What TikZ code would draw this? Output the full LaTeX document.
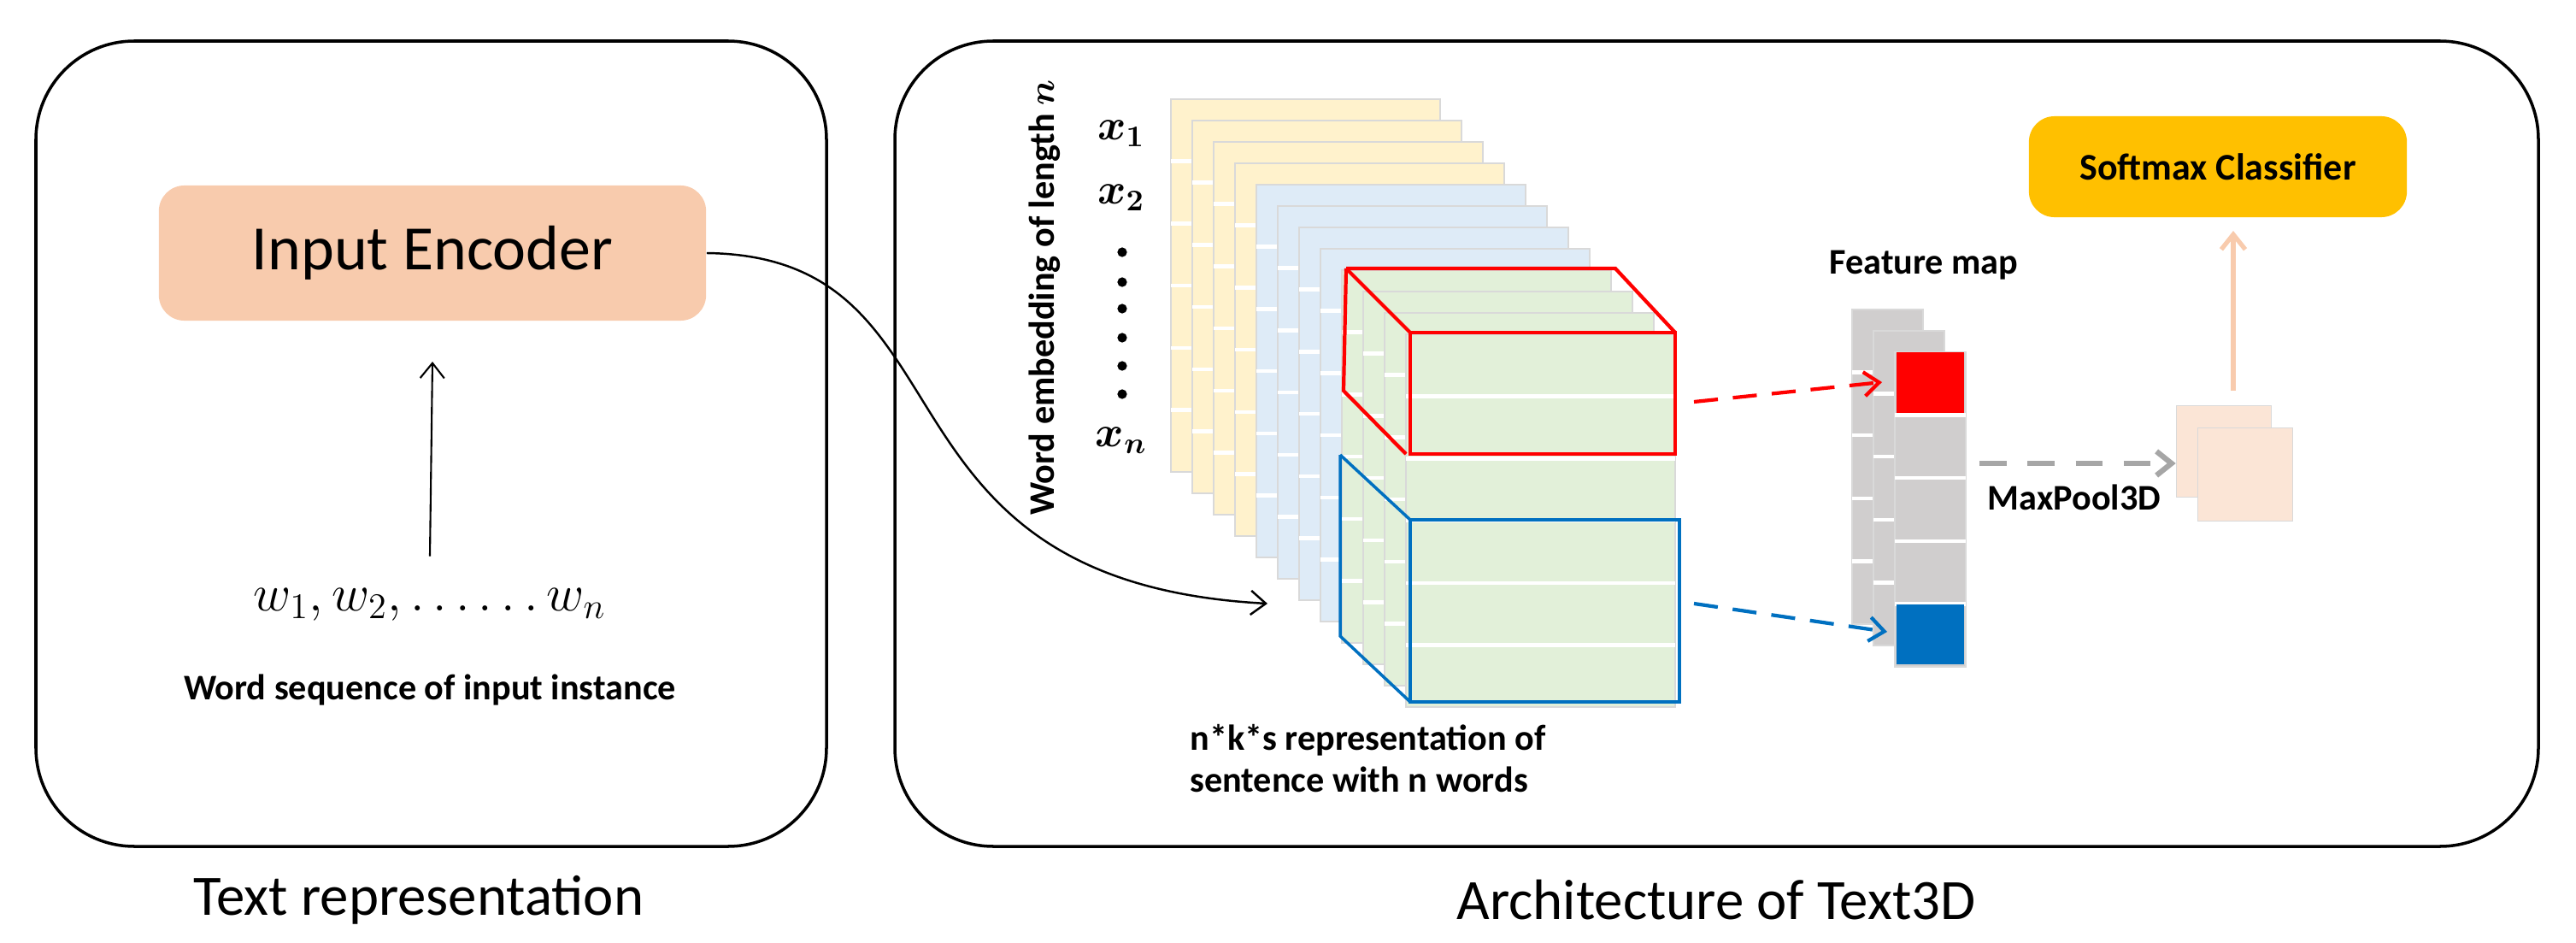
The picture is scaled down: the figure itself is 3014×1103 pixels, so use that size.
\documentclass[tikz,border=0pt]{standalone}
\usepackage{amsmath,bm}
\usepackage{fontspec}
\setmainfont{Carlito}
\usetikzlibrary{arrows.meta}
\definecolor{enc}{HTML}{F8CBAD}
\definecolor{sy}{HTML}{FFF2CC}
\definecolor{sb}{HTML}{DEEBF7}
\definecolor{sg}{HTML}{E2F0D9}
\definecolor{fg}{HTML}{D0CECE}
\definecolor{pool}{HTML}{FBE5D6}
\definecolor{gold}{HTML}{FFC000}
\definecolor{myred}{HTML}{FF0000}
\definecolor{myblue}{HTML}{0070C0}
\begin{document}
\begin{tikzpicture}[x=0.01cm,y=-0.01cm,
  panel/.style={draw=black,line width=1pt,rounded corners=1.15cm},
  lbl/.style={font=\bfseries\fontsize{12}{14}\selectfont,align=left},
  sheet/.style={draw=black!15,line width=0.4pt},
  row/.style={white,line width=1.3pt},
  tip/.style={-{Straight Barb[length=5pt,width=8pt]}}]
\useasboundingbox (0,0) rectangle (3014,1103);
% panels
\draw[panel] (42,48) rectangle (967,990);
\draw[panel] (1047,48) rectangle (2970,990);
% left panel
\node[fill=enc,rounded corners=0.3cm,minimum width=6.4cm,minimum height=1.58cm,font=\fontsize{21}{24}\selectfont] (enc) at (506,296) {Input Encoder};
\node (words) at (503,707) {\fontsize{18}{22}\selectfont $w_1, w_2, \ldots\ldots w_n$};
\node[lbl] (wseq) at (503,807) {Word sequence of input instance};
\draw[line width=0.6pt,tip] (words.north) ++(0,-25) coordinate (ws) -- (enc.south |- 0,423);
\node[font=\fontsize{19}{22}\selectfont] (t1) at (490,1053) {Text representation};
\node[font=\fontsize{19}{22}\selectfont] (t2) at (2008,1053) {Architecture of Text3D};
% sheets
\foreach \i in {0,...,11}{
  \pgfmathsetmacro{\xa}{1370+25*\i}
  \pgfmathsetmacro{\ya}{116+25*\i}
  \ifnum\i<4 \def\cc{sy}\else\ifnum\i<8 \def\cc{sb}\else\def\cc{sg}\fi\fi
  \fill[\cc] (\xa,\ya) rectangle ++(315,436);
  \draw[sheet] (\xa,\ya) rectangle ++(315,436);
  \foreach \k in {1,...,5}{
    \draw[row] (\xa,\ya+\k*72.7) -- ++(315,0);}
}
% red cube
\draw[myred,line width=1.2pt] (1575,314) -- (1890,314) -- (1960,389);
\draw[myred,line width=1.2pt] (1575,314) -- (1572,457) -- (1645,531);
\draw[myred,line width=1.2pt] (1575,314) -- (1650,389);
\draw[myred,line width=1.2pt] (1650,389) rectangle (1960,531);
% blue cube
\draw[myblue,line width=1pt] (1568,532) -- (1568,744) -- (1650,821);
\draw[myblue,line width=1pt] (1568,532) -- (1650,608);
\draw[myblue,line width=1pt] (1650,608) rectangle (1965,821);
\coordinate (redsrc) at (1982,470);
\coordinate (bluesrc) at (1982,706);
% labels
\node[lbl,rotate=90] (wemb) at (1222,348) {Word embedding of length $\bm{n}$};
\node (x1) at (1312,156) {\fontsize{14}{16}\selectfont $\bm{x_1}$};
\node (x2) at (1312,231) {\fontsize{14}{16}\selectfont $\bm{x_2}$};
\foreach \yy in {295,330,361,395,428,461}{\fill (1313,\yy) circle (1.6pt);}
\node (xn) at (1312,515) {\fontsize{14}{16}\selectfont $\bm{x_n}$};
\node[lbl,anchor=north west] (nks) at (1380,835) {n*k*s representation of\\sentence with n words};
% input curve
\coordinate (cubein) at (1483,706);
\draw[line width=0.7pt,tip] (enc.east) .. controls (1150,300) and (1000,680) .. (cubein);
% feature map
\node[lbl] (fmap) at (2251,310) {Feature map};
\foreach \j in {0,1,2}{
  \pgfmathsetmacro{\xa}{2167+25*\j}
  \pgfmathsetmacro{\ya}{362+25*\j}
  \fill[fg] (\xa,\ya) rectangle ++(83,368);
  \draw[sheet] (\xa,\ya) rectangle ++(83,368);
  \foreach \k in {1,...,4}{\draw[row] (\xa,\ya+\k*73.6) -- ++(83,0);}
}
\fill[myred] (2219,412) rectangle (2298,483);
\fill[myblue] (2219,707) rectangle (2298,777);
\coordinate (fred) at (2202,447);
\coordinate (fblue) at (2208,739);
\draw[myred,line width=1.2pt,dash pattern=on 8pt off 5pt,tip] (redsrc) -- (fred);
\draw[myblue,line width=1.2pt,dash pattern=on 8pt off 5pt,tip] (bluesrc) -- (fblue);
% pooled
\node[fill=pool,draw=black!15,minimum width=1.11cm,minimum height=1.07cm,inner sep=0] (p1) at (2602,528) {};
\node[fill=pool,draw=black!15,minimum width=1.11cm,minimum height=1.09cm,inner sep=0] (p2) at (2627,555) {};
\draw[black!35,line width=1.8pt,dash pattern=on 9pt off 7pt,tip] (2316,542) -- (p1.west |- 0,542);
\node[lbl] (mp) at (2427,582) {MaxPool3D};
% softmax
\node[fill=gold,rounded corners=0.3cm,minimum width=4.42cm,minimum height=1.18cm,font=\bfseries\fontsize{12.5}{15}\selectfont] (soft) at (2595,195) {Softmax Classifier};
\draw[enc,line width=1.5pt,tip] (2613,457) -- (2613,270);
\end{tikzpicture}
\end{document}
